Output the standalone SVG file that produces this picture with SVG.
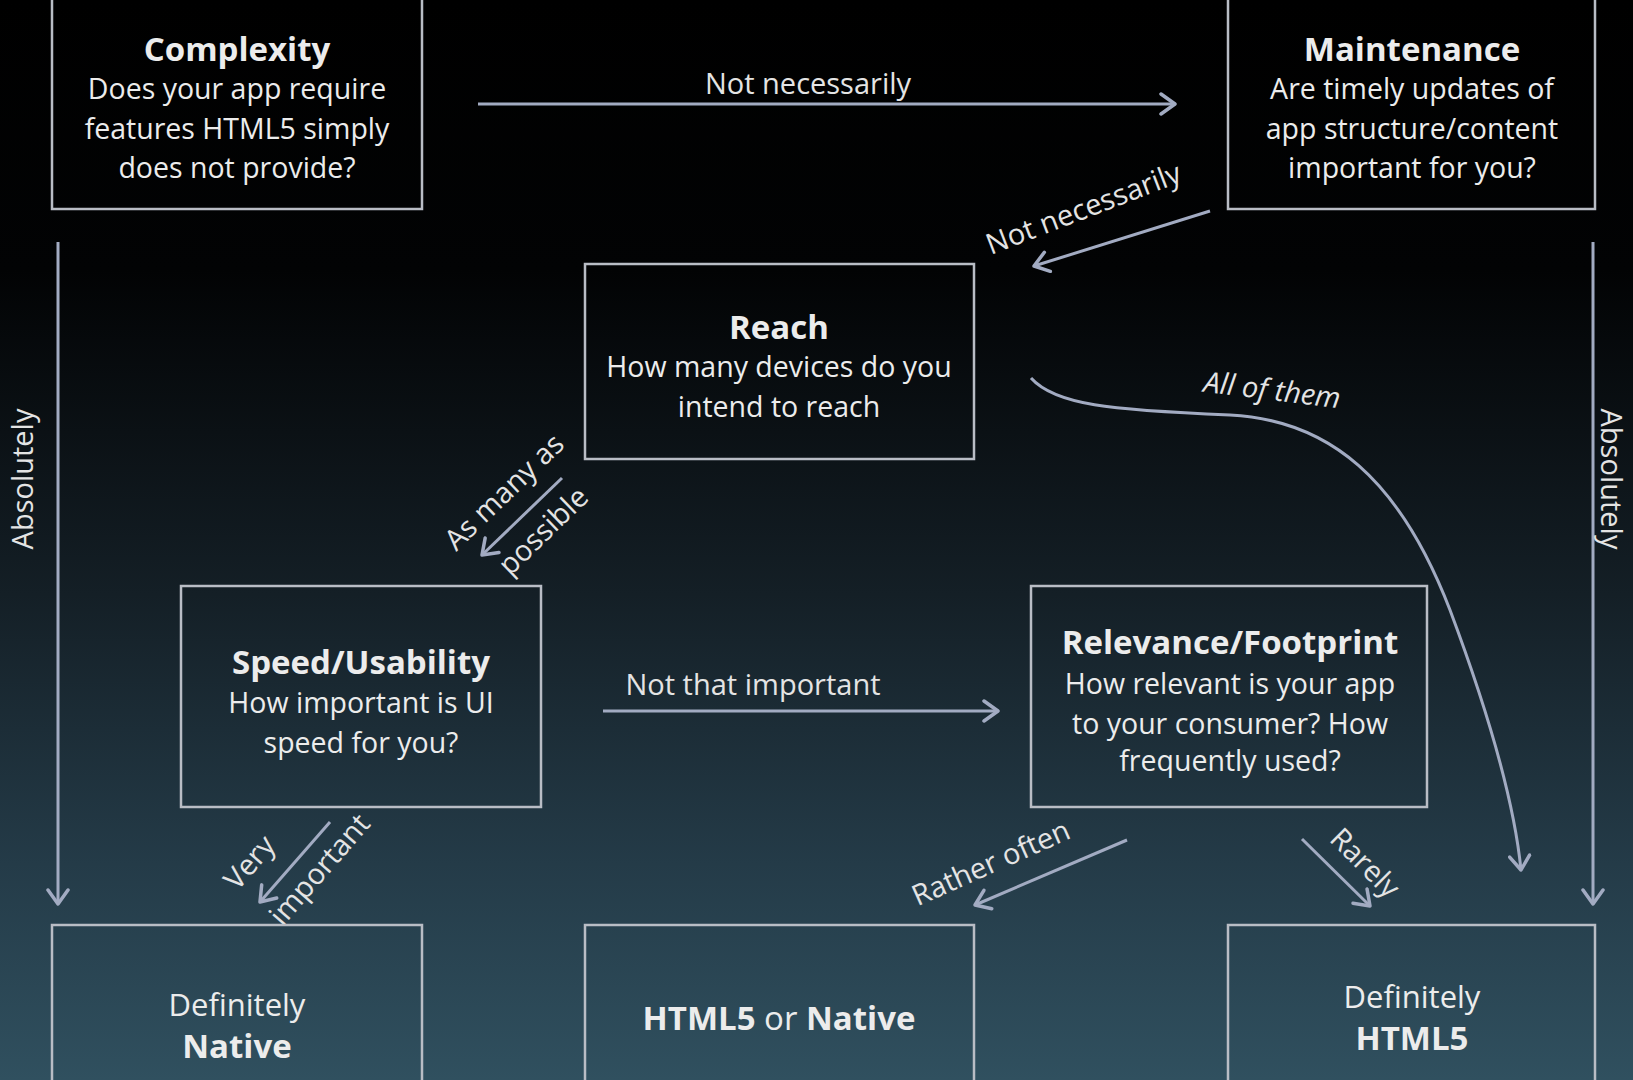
<svg xmlns="http://www.w3.org/2000/svg" width="1633" height="1080" viewBox="0 0 1633 1080">
<defs>
<linearGradient id="bg" x1="0" y1="0" x2="0" y2="1">
<stop offset="0" stop-color="#000000"/>
<stop offset="0.25" stop-color="#020304"/>
<stop offset="0.55" stop-color="#141f26"/>
<stop offset="0.8" stop-color="#243b48"/>
<stop offset="1" stop-color="#30505f"/>
</linearGradient>
<marker id="arr" viewBox="0 0 24 24" refX="20" refY="12" markerWidth="24" markerHeight="24" markerUnits="userSpaceOnUse" orient="auto">
<polyline points="6,2 20,12 6,22" fill="none" stroke="#a2abc2" stroke-width="3.5" stroke-linecap="round" stroke-linejoin="round"/>
</marker>
</defs>
<style>
.box{fill:none;stroke:#b9bdc5;stroke-width:2.5}
.t{font-family:"Open Sans","Noto Sans",sans-serif;fill:#ececec;text-anchor:middle}
.h{font-size:33px;font-weight:bold}
.s{font-size:28.5px}
.f{font-size:31px}
.b{font-weight:bold}
.c{fill:none;stroke:#a2abc2;stroke-width:3;marker-end:url(#arr)}
.l{font-family:"Open Sans","Noto Sans",sans-serif;fill:#e4e4e4;font-size:29px;text-anchor:middle}
</style>
<rect x="0" y="0" width="1633" height="1080" fill="url(#bg)"/>

<g id="connectors">
<line class="c" x1="478" y1="104" x2="1175" y2="104"/>
<text class="l" x="808" y="94">Not necessarily</text>
<line class="c" x1="1210" y1="211" x2="1034" y2="266"/>
<text class="l" x="1087" y="218" transform="rotate(-21 1087 218)">Not necessarily</text>
<line class="c" x1="58" y1="242" x2="58" y2="904"/>
<text class="l" x="33" y="479" transform="rotate(-90 33 479)">Absolutely</text>
<line class="c" x1="1593" y1="242" x2="1593" y2="904"/>
<text class="l" x="1601" y="479" transform="rotate(90 1601 479)">Absolutely</text>
<path class="c" d="M1031,378 C1055,405 1110,410 1230,415 C1330,420 1400,480 1450,610 C1495,730 1515,810 1521,870"/>
<text class="l" x="1271" y="400" font-style="italic" transform="rotate(7 1271 400)">All of them</text>
<line class="c" x1="562" y1="478" x2="482" y2="555"/>
<text class="l" x="511" y="499" transform="rotate(-44 511 499)">As many as</text>
<text class="l" x="550" y="538" transform="rotate(-44 550 538)">possible</text>
<line class="c" x1="603" y1="711" x2="998" y2="711"/>
<text class="l" x="753" y="695">Not that important</text>
<line class="c" x1="330" y1="822" x2="260" y2="902"/>
<text class="l" x="257" y="869" transform="rotate(-49 257 869)">Very</text>
<text class="l" x="327" y="876" transform="rotate(-49 327 876)">important</text>
<line class="c" x1="1127" y1="840" x2="975" y2="905"/>
<text class="l" x="995" y="872" transform="rotate(-24 995 872)">Rather often</text>
<line class="c" x1="1302" y1="839" x2="1370" y2="906"/>
<text class="l" x="1358" y="870" transform="rotate(45 1358 870)">Rarely</text>
</g>

<g id="complexity">
<rect class="box" x="52" y="-5" width="370" height="214"/>
<text class="t h" x="237" y="61">Complexity</text>
<text class="t s" x="237" y="99">Does your app require</text>
<text class="t s" x="237" y="139">features HTML5 simply</text>
<text class="t s" x="237" y="178">does not provide?</text>
</g>

<g id="maintenance">
<rect class="box" x="1228" y="-5" width="367" height="214"/>
<text class="t h" x="1412" y="61">Maintenance</text>
<text class="t s" x="1412" y="99">Are timely updates of</text>
<text class="t s" x="1412" y="139">app structure/content</text>
<text class="t s" x="1412" y="178">important for you?</text>
</g>

<g id="reach">
<rect class="box" x="585" y="264" width="389" height="195"/>
<text class="t h" x="779" y="339">Reach</text>
<text class="t s" x="779" y="377">How many devices do you</text>
<text class="t s" x="779" y="417">intend to reach</text>
</g>

<g id="speed">
<rect class="box" x="181" y="586" width="360" height="221"/>
<text class="t h" x="361" y="674">Speed/Usability</text>
<text class="t s" x="361" y="713">How important is UI</text>
<text class="t s" x="361" y="753">speed for you?</text>
</g>

<g id="relevance">
<rect class="box" x="1031" y="586" width="396" height="221"/>
<text class="t h" x="1230" y="654">Relevance/Footprint</text>
<text class="t s" x="1230" y="694">How relevant is your app</text>
<text class="t s" x="1230" y="734">to your consumer? How</text>
<text class="t s" x="1230" y="771">frequently used?</text>
</g>

<g id="native">
<rect class="box" x="52" y="925" width="370" height="170"/>
<text class="t f" x="237" y="1016">Definitely</text>
<text class="t h" x="237" y="1058">Native</text>
</g>

<g id="either">
<rect class="box" x="585" y="925" width="389" height="170"/>
<text class="t" x="779" y="1030" font-size="33"><tspan class="b">HTML5</tspan> or <tspan class="b">Native</tspan></text>
</g>

<g id="html5">
<rect class="box" x="1228" y="925" width="367" height="170"/>
<text class="t f" x="1412" y="1008">Definitely</text>
<text class="t h" x="1412" y="1050">HTML5</text>
</g>
</svg>
